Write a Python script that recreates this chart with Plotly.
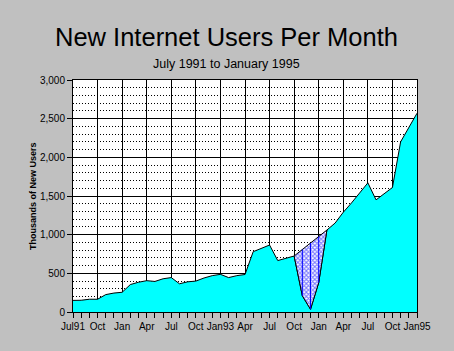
import plotly.graph_objects as go

# Month index 0 = Jul 1991 ... 42 = Jan 1995
months = list(range(43))
new_users = [150, 152, 165, 165, 225, 245, 255, 355, 385, 405, 395, 430, 445,
             365, 390, 400, 440, 470, 487, 445, 470, 485, 780, 820, 866, 665,
             695, 724, 210, 35, 380, 1060, 1150, 1290, 1410, 1540, 1670, 1450,
             1530, 1610, 2200, 2390, 2570]

# hatched (estimated) region, Oct 93 - Feb 94
hatch_months = [27, 28, 29, 30, 31]
hatch_top = [724, 808, 892, 976, 1060]

tick_months = list(range(0, 43, 3))
tick_labels = ["Jul91", "Oct", "Jan", "Apr", "Jul", "Oct", "Jan93", "Apr",
               "Jul", "Oct", "Jan", "Apr", "Jul", "Oct", "Jan95"]

title_text = "New Internet Users Per Month"
subtitle_text = "July 1991 to January 1995"
y_title = "Thousands of New Users"

FONT = "Liberation Sans, Arial, sans-serif"

fig = go.Figure()

fig.add_trace(go.Scatter(
    x=months, y=new_users, mode="lines", fill="tozeroy",
    fillcolor="#00FFFF", line=dict(color="black", width=1),
    hoverinfo="skip", showlegend=False))

hatch_data = [new_users[m] for m in hatch_months]
poly_x = hatch_months + hatch_months[::-1]
poly_y = hatch_top + hatch_data[::-1]
fig.add_trace(go.Scatter(
    x=poly_x, y=poly_y, mode="lines", fill="toself",
    fillcolor="white",
    fillpattern=dict(shape="x", fgcolor="#0000FF", bgcolor="white",
                     size=3, solidity=0.6),
    line=dict(color="black", width=1),
    hoverinfo="skip", showlegend=False))

vx, vy = [], []
for m, top in zip(hatch_months[1:-1], hatch_top[1:-1]):
    vx += [m, m, None]
    vy += [new_users[m], top, None]
fig.add_trace(go.Scatter(
    x=vx, y=vy, mode="lines", line=dict(color="#0000FF", width=1),
    hoverinfo="skip", showlegend=False))

fig.update_layout(
    width=454, height=351,
    margin=dict(l=73, r=37, t=80, b=39),
    paper_bgcolor="#C0C0C0", plot_bgcolor="white",
    font=dict(family=FONT, color="black"),
)
ph = 351 - 80 - 39
pw = 454 - 73 - 37
def px_to_paper_y(py):
    return (351 - 39 - py) / ph
def px_to_paper_x(pxx):
    return (pxx - 73) / pw

fig.add_annotation(text=title_text, x=px_to_paper_x(226), y=px_to_paper_y(37),
                   xref="paper", yref="paper", showarrow=False,
                   xanchor="center", yanchor="middle",
                   font=dict(size=25.5, family=FONT, color="black"))
fig.add_annotation(text=subtitle_text, x=px_to_paper_x(226), y=px_to_paper_y(64),
                   xref="paper", yref="paper", showarrow=False,
                   xanchor="center", yanchor="middle",
                   font=dict(size=12.5, family=FONT, color="black"))
fig.add_annotation(text="<b>" + y_title + "</b>", x=px_to_paper_x(33), y=0.5,
                   xref="paper", yref="paper", showarrow=False, textangle=-90,
                   xanchor="center", yanchor="middle",
                   font=dict(size=9, family=FONT, color="black"))

fig.update_xaxes(
    range=[0, 42], tickmode="array", tickvals=tick_months, ticktext=tick_labels,
    tickangle=0,
    ticks="outside", ticklen=5, tickcolor="black", tickwidth=1,
    showline=True, linecolor="black", linewidth=1, mirror=True,
    showgrid=True, gridcolor="black", gridwidth=1,
    minor=dict(dtick=1, tick0=0, ticks="outside", ticklen=5, tickcolor="black",
               showgrid=False),
    tickfont=dict(size=10, family=FONT, color="black"),
    zeroline=False, fixedrange=True)

fig.update_yaxes(
    range=[0, 3000], dtick=500, tick0=0, tickformat=",d",
    ticks="outside", ticklen=5, tickcolor="black", tickwidth=1,
    showline=True, linecolor="black", linewidth=1, mirror=True,
    showgrid=True, gridcolor="black", gridwidth=1,
    minor=dict(dtick=100, tick0=0, showgrid=True, gridcolor="black",
               griddash="1px,2px", gridwidth=1, ticks=""),
    tickfont=dict(size=10, family=FONT, color="black"),
    zeroline=False, fixedrange=True)

fig.write_html("out.html", config={"displayModeBar": False})
